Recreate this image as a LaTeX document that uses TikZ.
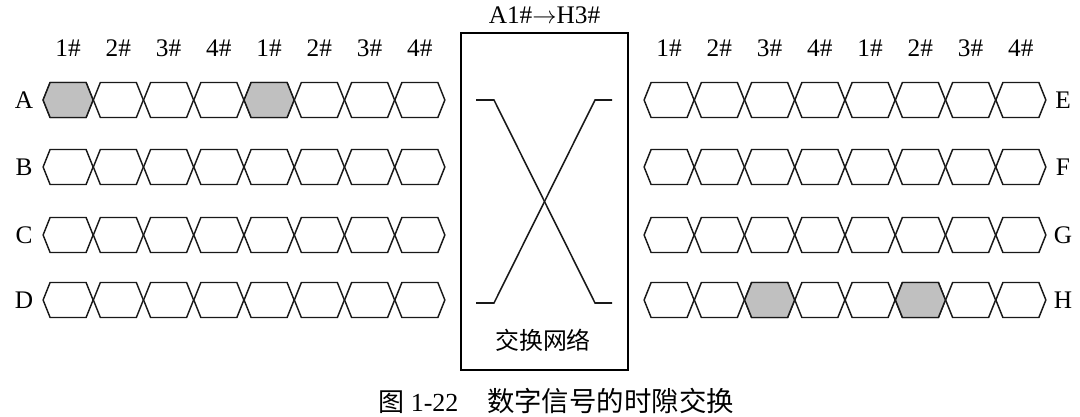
\documentclass[tikz,border=0pt]{standalone}
\usepackage{fontspec}
\setmainfont{Liberation Serif}
\newfontfamily\cjk{Noto Sans CJK SC}
\usetikzlibrary{positioning}
\definecolor{slotgray}{RGB}{192,192,192}
\tikzset{
  slot/.style={draw=black!90, line width=1.05pt, line join=miter},
  lbl/.style={font=\fontsize{18}{20}\selectfont, inner sep=0pt},
  wire/.style={line width=1.1pt, draw=black!90},
}
% one time slot: centre x, centre y, fill colour
\newcommand{\hexslot}[3]{%
  \filldraw[slot, fill=#3] (#1-25,#2) -- ++(7,-17.5) -- ++(36,0) -- ++(7,17.5)
    -- ++(-7,17.5) -- ++(-36,0) -- cycle;}

\begin{document}
\begin{tikzpicture}[x=0.025cm, y=-0.025cm]
\useasboundingbox (0,0) rectangle (1080,416);

% input lines
\foreach \r/\y in {A/100,B/167,C/235,D/300} {
  \node[lbl] (in\r) at (24,\y) {\r};
  \foreach \i in {0,...,7}
    \hexslot{68.1+50.25*\i}{\y}{white};
}
% output lines
\foreach \r/\y in {E/100,F/167,G/235,H/300} {
  \node[lbl] (out\r) at (1063,\y) {\r};
  \foreach \i in {0,...,7}
    \hexslot{669.1+50.25*\i}{\y}{white};
}
% shaded slots
\hexslot{68.1}{100}{slotgray}
\hexslot{269.1}{100}{slotgray}
\hexslot{769.6}{300}{slotgray}
\hexslot{920.4}{300}{slotgray}

% slot numbers
\foreach \n [count=\i from 0] in {1,2,3,4,1,2,3,4} {
  \node[lbl] (inno\i) at (68.1+50.25*\i,48) {\n\#};
  \node[lbl] (outno\i) at (669.1+50.25*\i,48) {\n\#};
}

% switching network
\node[draw, line width=1.6pt, minimum width=4.175cm, minimum height=8.425cm,
  inner sep=0pt] (net) at (544.5,201.5) {};
\node[lbl, above=0.2cm of net] (route) {A1\#$\rightarrow$H3\#};
\node[lbl, font=\cjk\fontsize{17}{20}\selectfont] (netname) at (543,340) {交换网络};

\coordinate (a1) at (476,100); \coordinate (a2) at (494,100);
\coordinate (a3) at (595,303); \coordinate (a4) at (612,303);
\coordinate (b1) at (476,303); \coordinate (b2) at (494,303);
\coordinate (b3) at (595,100); \coordinate (b4) at (612,100);
\draw[wire] (a1) -- (a2) -- (a3) -- (a4);
\draw[wire] (b1) -- (b2) -- (b3) -- (b4);

% caption
\node[anchor=west, inner sep=0pt, font=\fontsize{18.5}{20}\selectfont] (caption) at (378,401)
  {{\cjk 图} 1-22\hspace{1.1em}{\cjk\fontsize{19.5}{20}\selectfont 数字信号的时隙交换}};
\end{tikzpicture}
\end{document}
